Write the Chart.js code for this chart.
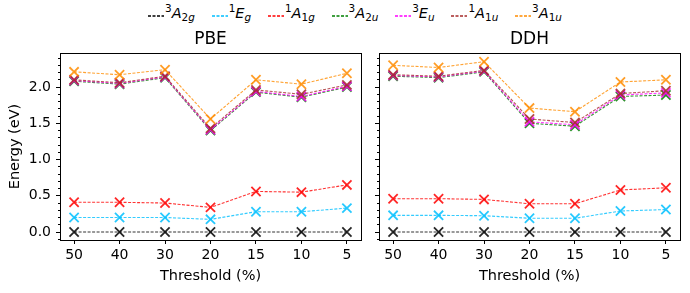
<!DOCTYPE html>
<html>
<head>
<meta charset="utf-8">
<script src="https://cdn.jsdelivr.net/npm/chart.js@4.4.0/dist/chart.umd.min.js"></script>
<style>
  html, body { margin: 0; padding: 0; background: #fff; }
  #wrap { position: relative; width: 690px; height: 293px; overflow: hidden; font-family: 'DejaVu Sans', sans-serif; }
  #leftBox { position: absolute; left: 0; top: 0; width: 370px; height: 293px; }
  #rightBox { position: absolute; left: 370px; top: 0; width: 320px; height: 293px; }
  #legend { position: absolute; top: 5px; left: 148px; width: 414px; display: flex; justify-content: space-between; align-items: center; font-size: 14.5px; color: #000; }
  .item { display: flex; align-items: center; white-space: nowrap; }
  .handle { display: block; margin-right: 1px; margin-top: 6px; }
  .lbl sup { font-size: 0.72em; vertical-align: 0.55em; line-height: 0; }
  .lbl sub { font-size: 0.72em; vertical-align: -0.3em; line-height: 0; }
</style>
</head>
<body>
<div id="wrap">
  <div id="legend"></div>
  <div id="leftBox"><canvas id="pbeChart" width="370" height="293"></canvas></div>
  <div id="rightBox"><canvas id="ddhChart" width="320" height="293"></canvas></div>
</div>
<script>
// Etiquetas del eje x
const thresholds = ['50', '40', '30', '20', '15', '10', '5'];

// PBE
const pbe3A2g = [0, 0, 0, 0, 0, 0, 0];
const pbe1Eg  = [0.20, 0.20, 0.20, 0.175, 0.28, 0.28, 0.33];
const pbe1A1g = [0.41, 0.41, 0.40, 0.34, 0.56, 0.55, 0.65];
const pbe3A2u = [2.08, 2.04, 2.13, 1.40, 1.93, 1.86, 2.00];
const pbe3Eu  = [2.09, 2.05, 2.14, 1.41, 1.94, 1.87, 2.01];
const pbe1A1u = [2.10, 2.06, 2.15, 1.43, 1.96, 1.90, 2.03];
const pbe3A1u = [2.21, 2.17, 2.24, 1.56, 2.10, 2.04, 2.19];

// DDH
const ddh3A2g = [0, 0, 0, 0, 0, 0, 0];
const ddh1Eg  = [0.23, 0.23, 0.225, 0.19, 0.19, 0.29, 0.31];
const ddh1A1g = [0.46, 0.46, 0.45, 0.39, 0.39, 0.58, 0.61];
const ddh3A2u = [2.15, 2.13, 2.21, 1.50, 1.46, 1.87, 1.89];
const ddh3Eu  = [2.16, 2.14, 2.22, 1.52, 1.48, 1.89, 1.92];
const ddh1A1u = [2.17, 2.15, 2.23, 1.56, 1.51, 1.91, 1.95];
const ddh3A1u = [2.30, 2.27, 2.35, 1.71, 1.66, 2.07, 2.10];

// Nombres de los estados: [multiplicidad, letra, subíndice]
const stateNames = [['3', 'A', '2g'], ['1', 'E', 'g'], ['1', 'A', '1g'], ['3', 'A', '2u'],
                    ['3', 'E', 'u'], ['1', 'A', '1u'], ['3', 'A', '1u']];
const stateColors = ['#000000', '#00bfff', '#ff0000', '#008000', '#ff00ff', '#a52a2a', '#ff8c00'];

const yMin = -0.11;
const yMax = 2.47;

Chart.defaults.font.family = "'DejaVu Sans', sans-serif";
Chart.defaults.font.size = 14;
Chart.defaults.color = '#000';

function subHtml(s) {
    // dígitos rectos, letras en cursiva
    return s.replace(/([a-z])/g, '<i>$1</i>');
}

function buildLegend() {
    const el = document.getElementById('legend');
    stateNames.forEach((n, i) => {
        const c = stateColors[i];
        const item = document.createElement('div');
        item.className = 'item';
        item.innerHTML = '<svg class="handle" width="16" height="4"><line x1="0" y1="2" x2="16" y2="2" stroke="' + c +
            '" stroke-width="1.6" stroke-dasharray="3,1.5"/></svg>' +
            '<span class="lbl"><sup>' + n[0] + '</sup><i>' + n[1] + '</i><sub>' + subHtml(n[2]) + '</sub></span>';
        el.appendChild(item);
    });
}

function hexAlpha(hex, a) {
    const r = parseInt(hex.slice(1, 3), 16), g = parseInt(hex.slice(3, 5), 16), b = parseInt(hex.slice(5, 7), 16);
    return 'rgba(' + r + ',' + g + ',' + b + ',' + a + ')';
}

function makeChart(canvasId, title, series, isLeft) {
    const datasets = series.map((vals, i) => ({
        label: stateNames[i].join(''),
        data: vals.map((v, k) => ({ x: k, y: v })),
        borderColor: hexAlpha(stateColors[i], 0.8),
        borderWidth: 1.1,
        borderDash: [3, 1.5],
        pointStyle: 'crossRot',
        pointRadius: 6.5,
        pointBorderWidth: 1.8,
        pointBorderColor: hexAlpha(stateColors[i], 0.85),
        pointBackgroundColor: stateColors[i],
        fill: false,
        tension: 0,
        order: series.length - i
    }));

    const noGrid = { drawOnChartArea: false, drawTicks: false };

    return new Chart(document.getElementById(canvasId), {
        type: 'line',
        data: { datasets: datasets },
        options: {
            responsive: false,
            animation: false,
            layout: { padding: { top: 29.6, bottom: 8, left: 0, right: isLeft ? 9 : 10 } },
            plugins: { legend: { display: false }, tooltip: { enabled: false } },
            scales: {
                x: {
                    type: 'linear',
                    min: -0.31, max: 6.31,
                    afterFit: s => { s.height = 45; },
                    ticks: {
                        stepSize: 1, includeBounds: false, padding: 3,
                        maxRotation: 0, autoSkip: false,
                        callback: v => thresholds[v] !== undefined ? thresholds[v] : ''
                    },
                    grid: { drawOnChartArea: false, tickLength: 4, color: '#000' },
                    border: { color: '#000', width: 1 },
                    title: { display: true, text: 'Threshold (%)', font: { size: 14.5 }, padding: { top: 0, bottom: 0.5 } }
                },
                xTop: {
                    type: 'linear', position: 'top',
                    min: -0.31, max: 6.31,
                    ticks: { display: false },
                    grid: noGrid,
                    border: { color: '#000', width: 1 },
                    title: { display: true, text: title, font: { size: 17 }, padding: { top: 0, bottom: 3 } }
                },
                y: {
                    type: 'linear', position: 'left', weight: 1,
                    min: yMin, max: yMax,
                    afterFit: s => { s.width = isLeft ? 60 : 9; },
                    ticks: {
                        display: isLeft, stepSize: 0.5, includeBounds: false, padding: 5,
                        callback: v => v.toFixed(1)
                    },
                    grid: { drawOnChartArea: false, tickLength: 4, color: '#000' },
                    border: { color: '#000', width: 1 },
                    title: { display: isLeft, text: 'Energy (eV)', font: { size: 14.5 }, padding: { top: 6.5, bottom: 0 } }
                },
                yMinor: {
                    type: 'linear', position: 'left', weight: 0,
                    min: yMin, max: yMax,
                    afterFit: s => { s.width = 0; },
                    ticks: { display: false, stepSize: 0.1, includeBounds: false },
                    grid: { drawOnChartArea: false, tickLength: 2, color: '#000' },
                    border: { display: false }
                },
                yRight: {
                    type: 'linear', position: 'right',
                    min: yMin, max: yMax,
                    ticks: { display: false },
                    grid: noGrid,
                    border: { color: '#000', width: 1 }
                }
            }
        }
    });
}

buildLegend();
makeChart('pbeChart', 'PBE', [pbe3A2g, pbe1Eg, pbe1A1g, pbe3A2u, pbe3Eu, pbe1A1u, pbe3A1u], true);
makeChart('ddhChart', 'DDH', [ddh3A2g, ddh1Eg, ddh1A1g, ddh3A2u, ddh3Eu, ddh1A1u, ddh3A1u], false);
</script>
</body>
</html>
